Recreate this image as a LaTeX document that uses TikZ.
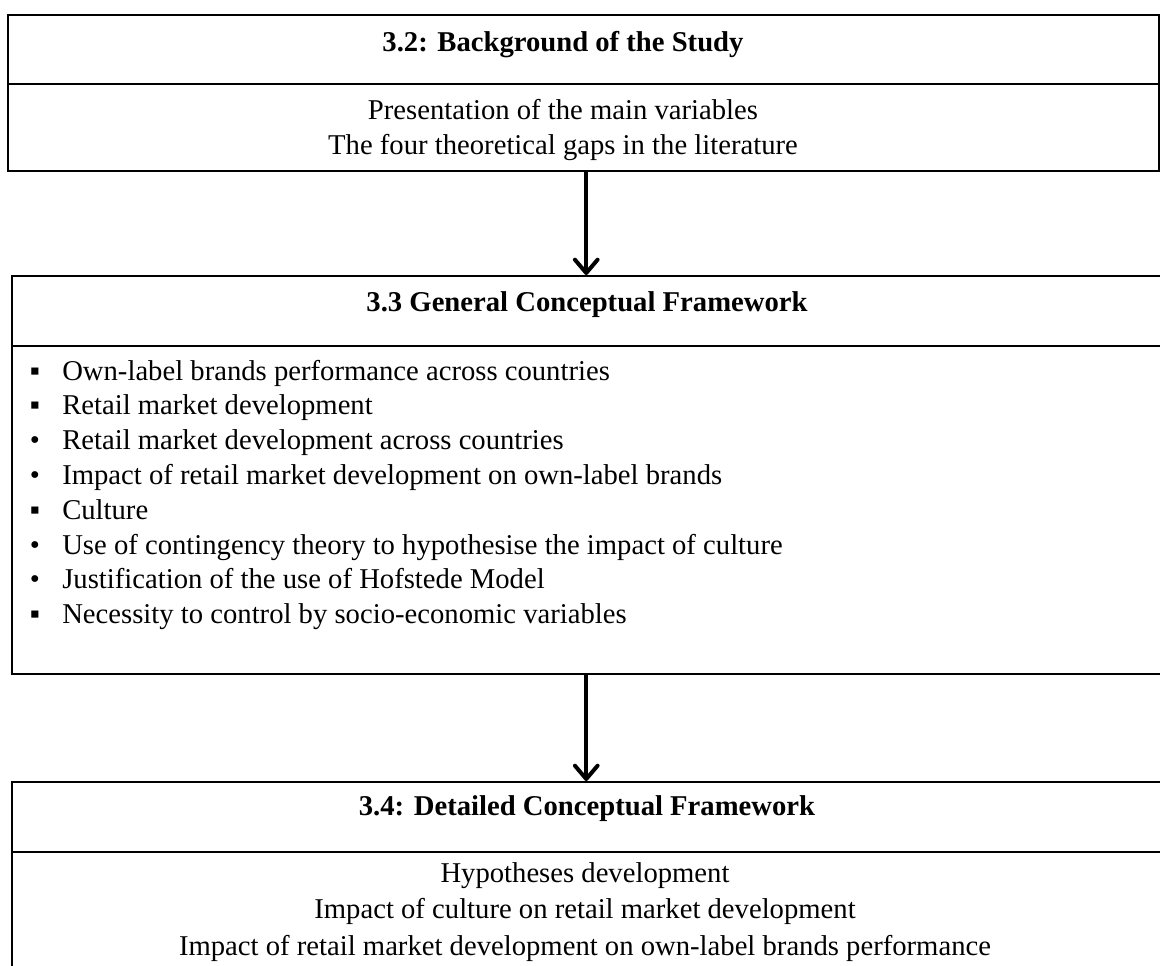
\documentclass[tikz,border=0pt]{standalone}
\usepackage{fontspec}
\setmainfont{Liberation Serif}
\usetikzlibrary{arrows.meta}
\newlength\pxu
\setlength\pxu{0.75pt}
\begin{document}
\begin{tikzpicture}[x=0.75pt,y=-0.75pt,
  panel/.style={draw=black, line width=1.5pt, rectangle, inner sep=0pt,
    anchor=north west},
  ttl/.style={font=\fontsize{21.5}{26}\selectfont\bfseries, anchor=base, inner sep=0pt},
  txt/.style={font=\fontsize{21.5}{26}\selectfont, anchor=base, inner sep=0pt},
  flow/.style={line width=3pt, -{Straight Barb[length=10pt,width=17pt,round]}}
]
\useasboundingbox (0,0) rectangle (1160,965);
\clip (0,0) rectangle (1160,965);

% Section 3.2
\node[panel, minimum width=1151\pxu, minimum height=69\pxu] (head1) at (7,14) {};
\node[panel, minimum width=1151\pxu, minimum height=87\pxu] (body1) at (7,83) {};
\node[ttl] (t1) at (563,51) {3.2: Background of the Study};
\node[txt] (l1a) at (563,119) {Presentation of the main variables};
\node[txt] (l1b) at (563,154) {The four theoretical gaps in the literature};

% Section 3.3
\node[panel, minimum width=1148.5\pxu, minimum height=70\pxu] (head2) at (11,275) {};
\node[panel, minimum width=1148.5\pxu, minimum height=328\pxu] (body2) at (11,345) {};
\node[ttl] (t2) at (587,311) {3.3 General Conceptual Framework};
\foreach \m/\t [count=\i from 0] in {
  ▪/Own-label brands performance across countries,
  ▪/Retail market development,
  •/Retail market development across countries,
  •/Impact of retail market development on own-label brands,
  ▪/Culture,
  •/Use of contingency theory to hypothesise the impact of culture,
  •/Justification of the use of Hofstede Model,
  ▪/Necessity to control by socio-economic variables}{
  \node[txt] (mk\i) at (35,{380+34.8*\i}) {\m};
  \node[txt, anchor=base west] (it\i) at (62,{380+34.8*\i}) {\t};
}

% Section 3.4 (runs past the lower edge)
\node[panel, minimum width=1148.5\pxu, minimum height=70\pxu] (head3) at (11,781) {};
\node[panel, minimum width=1148.5\pxu, minimum height=160\pxu] (body3) at (11,851) {};
\node[ttl] (t3) at (587,815) {3.4: Detailed Conceptual Framework};
\node[txt] (l3a) at (585,882) {Hypotheses development};
\node[txt] (l3b) at (585,918) {Impact of culture on retail market development};
\node[txt] (l3c) at (585,955) {Impact of retail market development on own-label brands performance};

% Connectors
\draw[flow] (body1.south -| head2.north) -- (head2.north);
\draw[flow] (body2.south) -- (head3.north);
\end{tikzpicture}
\end{document}
